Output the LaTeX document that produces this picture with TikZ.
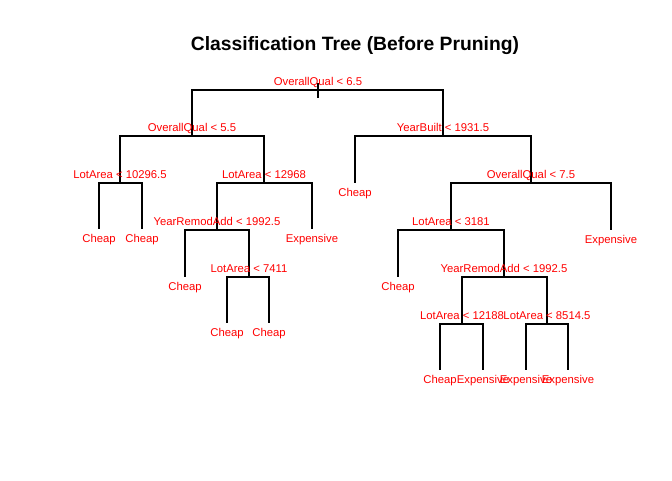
\documentclass[tikz,border=0pt]{standalone}
\usepackage{fontspec}
\setmainfont{Liberation Sans}
\usepackage{xcolor}
\usepackage{tikz}
\usetikzlibrary{positioning}
\definecolor{splitred}{RGB}{255,0,0}
\definecolor{treeline}{RGB}{0,0,0}
\tikzset{
  edge/.style={line width=1.3pt, color=treeline},
  split/.style={anchor=base, inner sep=0pt, yshift=5pt, text=splitred,
    font=\fontsize{11.3}{13}\selectfont},
  leaf/.style={anchor=base, inner sep=0pt, yshift=-13.5pt, text=splitred,
    font=\fontsize{11.3}{13}\selectfont},
  heading/.style={anchor=base, inner sep=0pt,
    font=\fontsize{19.3}{23}\selectfont\bfseries}
}

\begin{document}
\begin{tikzpicture}[x=1pt, y=-1pt]
  \useasboundingbox (0,0) rectangle (672,480);
  \node[heading] (title) at (355,50.5) {Classification Tree (Before Pruning)};

  % split points
  \coordinate (root) at (318,90);
  \coordinate (qual55) at (192,136);
  \coordinate (built) at (443,136);
  \coordinate (lot103) at (120,183);
  \coordinate (lot129) at (264,183);
  \coordinate (qual75) at (531,183);
  \coordinate (remodL) at (217,230);
  \coordinate (lot31) at (451,230);
  \coordinate (lot74) at (249,277);
  \coordinate (remodR) at (504,277);
  \coordinate (lot121) at (462,324);
  \coordinate (lot85) at (547,324);

  % leaf ends
  \coordinate (lfA) at (99,229);
  \coordinate (lfB) at (142,229);
  \coordinate (lfC) at (312,229);
  \coordinate (lfD) at (355,183);
  \coordinate (lfE) at (611,230);
  \coordinate (lfF) at (185,277);
  \coordinate (lfG) at (398,277);
  \coordinate (lfH) at (227,323);
  \coordinate (lfI) at (269,323);
  \coordinate (lfJ) at (440,370);
  \coordinate (lfK) at (483,370);
  \coordinate (lfL) at (526,370);
  \coordinate (lfM) at (568,370);

  % branches
  \draw[edge] ([yshift=7pt]root) -- ([yshift=-8pt]root);
  \draw[edge] (root) -| (qual55);
  \draw[edge] (root) -| (built);
  \draw[edge] (qual55) -| (lot103);
  \draw[edge] (qual55) -| (lot129);
  \draw[edge] (built) -| (lfD);
  \draw[edge] (built) -| (qual75);
  \draw[edge] (lot103) -| (lfA);
  \draw[edge] (lot103) -| (lfB);
  \draw[edge] (lot129) -| (remodL);
  \draw[edge] (lot129) -| (lfC);
  \draw[edge] (qual75) -| (lot31);
  \draw[edge] (qual75) -| (lfE);
  \draw[edge] (remodL) -| (lfF);
  \draw[edge] (remodL) -| (lot74);
  \draw[edge] (lot31) -| (lfG);
  \draw[edge] (lot31) -| (remodR);
  \draw[edge] (lot74) -| (lfH);
  \draw[edge] (lot74) -| (lfI);
  \draw[edge] (remodR) -| (lot121);
  \draw[edge] (remodR) -| (lot85);
  \draw[edge] (lot121) -| (lfJ);
  \draw[edge] (lot121) -| (lfK);
  \draw[edge] (lot85) -| (lfL);
  \draw[edge] (lot85) -| (lfM);

  % split labels
  \node[split] (rootlab) at (root) {OverallQual < 6.5};
  \node[split] (qual55lab) at (qual55) {OverallQual < 5.5};
  \node[split] (builtlab) at (built) {YearBuilt < 1931.5};
  \node[split] (lot103lab) at (lot103) {LotArea < 10296.5};
  \node[split] (lot129lab) at (lot129) {LotArea < 12968};
  \node[split] (qual75lab) at (qual75) {OverallQual < 7.5};
  \node[split] (remodLlab) at (remodL) {YearRemodAdd < 1992.5};
  \node[split] (lot31lab) at (lot31) {LotArea < 3181};
  \node[split] (lot74lab) at (lot74) {LotArea < 7411};
  \node[split] (remodRlab) at (remodR) {YearRemodAdd < 1992.5};
  \node[split] (lot121lab) at (lot121) {LotArea < 12188};
  \node[split] (lot85lab) at (lot85) {LotArea < 8514.5};

  % leaf labels
  \node[leaf] (lfAlab) at (lfA) {Cheap};
  \node[leaf] (lfBlab) at (lfB) {Cheap};
  \node[leaf] (lfClab) at (lfC) {Expensive};
  \node[leaf] (lfDlab) at (lfD) {Cheap};
  \node[leaf] (lfElab) at (lfE) {Expensive};
  \node[leaf] (lfFlab) at (lfF) {Cheap};
  \node[leaf] (lfGlab) at (lfG) {Cheap};
  \node[leaf] (lfHlab) at (lfH) {Cheap};
  \node[leaf] (lfIlab) at (lfI) {Cheap};
  \node[leaf] (lfJlab) at (lfJ) {Cheap};
  \node[leaf] (lfKlab) at (lfK) {Expensive};
  \node[leaf] (lfLlab) at (lfL) {Expensive};
  \node[leaf] (lfMlab) at (lfM) {Expensive};
\end{tikzpicture}
\end{document}
